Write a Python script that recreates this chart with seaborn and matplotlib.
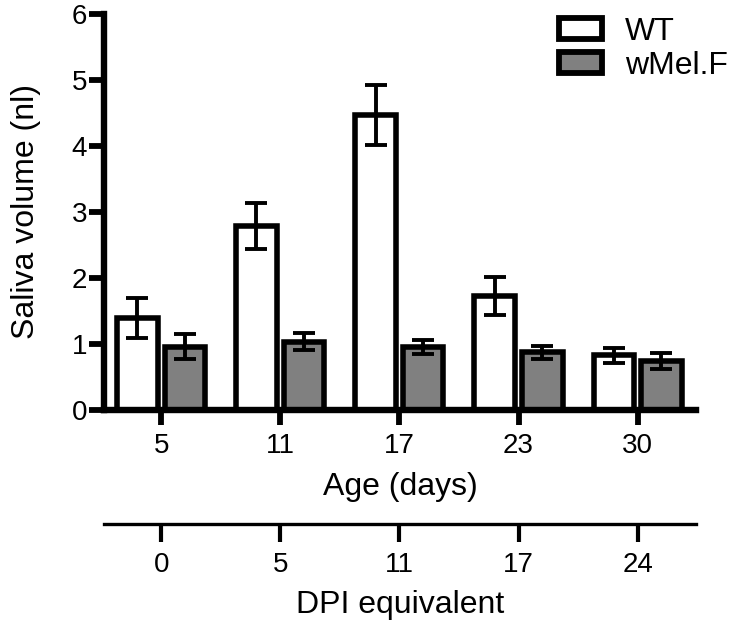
import matplotlib
matplotlib.use('Agg')
import matplotlib.pyplot as plt
from matplotlib.patches import Patch
import seaborn as sns
import numpy as np
import pandas as pd

# Data
age_days = ['5', '11', '17', '23', '30']
dpi_equivalent = ['0', '5', '11', '17', '24']
strains = ['WT', 'wMel.F']
wt_mean = [1.39, 2.79, 4.47, 1.72, 0.82]
wt_sem = [0.30, 0.35, 0.46, 0.29, 0.12]
wmel_mean = [0.95, 1.03, 0.95, 0.87, 0.74]
wmel_sem = [0.19, 0.13, 0.11, 0.10, 0.12]

colors = {'WT': 'white', 'wMel.F': '#808080'}

df = pd.DataFrame({
    'age': age_days * 2,
    'volume': wt_mean + wmel_mean,
    'sem': wt_sem + wmel_sem,
    'strain': ['WT'] * len(age_days) + ['wMel.F'] * len(age_days),
})

sns.set_style('ticks')
plt.rcParams['font.family'] = ['Liberation Sans', 'DejaVu Sans']
for key in ['text.color', 'axes.labelcolor', 'xtick.color', 'ytick.color', 'axes.edgecolor']:
    plt.rcParams[key] = 'black'

fig = plt.figure(figsize=(7.33, 6.23), dpi=100)
ax = fig.add_axes([104 / 733, 1 - 409.5 / 623, (696 - 104) / 733, (409.5 - 14) / 623])

sns.barplot(data=df, x='age', y='volume', hue='strain', order=age_days,
            hue_order=strains, palette=colors, edgecolor='black', linewidth=4.0,
            width=0.8, gap=0.15, errorbar=None, legend=False, ax=ax)

# Error bars (SEM) at the bar centres
for strain, cont in zip(strains, ax.containers):
    sub = df[df['strain'] == strain]
    xs = [b.get_x() + b.get_width() / 2 for b in cont]
    ax.errorbar(xs, sub['volume'], yerr=sub['sem'], fmt='none', ecolor='black',
                elinewidth=2.8, capsize=8, capthick=2.8, zorder=5)

ax.set_ylim(0, 6)
ax.set_xlim(-0.48, 4.49)
ax.set_yticks(range(7))
sns.despine(ax=ax)
for side in ['left', 'bottom']:
    ax.spines[side].set_linewidth(4.6)
ax.tick_params(axis='both', length=11, width=4.2, labelsize=20, color='black')
ax.tick_params(axis='y', pad=1)
ax.tick_params(axis='x', pad=6)
ax.set_xlabel('Age (days)', fontsize=23, labelpad=9)
ax.set_ylabel('Saliva volume (nl)', fontsize=23, labelpad=22)

# Second x axis underneath: DPI equivalent
sec = ax.secondary_xaxis(-0.29)
sec.set_xticks(range(len(dpi_equivalent)), labels=dpi_equivalent)
sec.spines['bottom'].set_linewidth(2.4)
sec.tick_params(length=13, width=3, labelsize=20, pad=7)
sec.set_xlabel('DPI equivalent', fontsize=23, labelpad=9)

handles = [Patch(facecolor=colors[s], edgecolor='black', linewidth=4.2) for s in strains]
ax.legend(handles, strains, loc='upper right', bbox_to_anchor=(728 / 733, 1 - 17 / 623),
          bbox_transform=fig.transFigure, frameon=False, fontsize=23,
          handlelength=1.35, handleheight=0.65, handletextpad=0.73,
          labelspacing=0.12, borderpad=0, borderaxespad=0)

fig.savefig('out.png', dpi=100)
